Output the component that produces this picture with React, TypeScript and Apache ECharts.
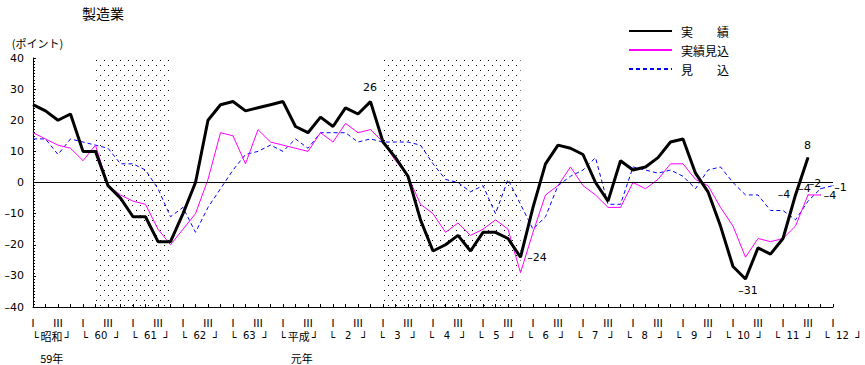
import React, { useEffect, useRef } from 'react';
import * as echarts from 'echarts';

const FONT = "'DejaVu Sans', 'Noto Sans CJK JP', sans-serif";
const JP = "'Noto Sans CJK JP', sans-serif";

// ---- texts ----
const chartTitle = '製造業';
const unitName = '(ポイント)';
const seriesNames = ['実　　績', '実績見込', '見　　込'];
const quarterMarks = ['Ⅰ', '', 'Ⅲ', ''];
const fiscalYears = ['昭和', '60', '61', '62', '63', '平成', '2', '3', '4', '5', '6', '7', '8', '9', '10', '11', '12'];
const eraNotes = ['59年', '元年'];
const eraYearIndex = [0, 5];

// ---- values (quarter index 0 = 昭和59年 I) ----
const actual = [
  25, 23, 20, 22, 10, 10, -1, -5, -11, -11, -19, -19, -10, 0, 20, 25,
  26, 23, 24, 25, 26, 18, 16, 21, 18, 24, 22, 26, 13, 8, 2, -12,
  -22, -20, -17, -22, -16, -16, -18, -24, -8, 6, 12, 11, 9, 0, -6, 7,
  4, 5, 8, 13, 14, 3, -3, -14, -27, -31, -21, -23, -18, -4, 8,
];
const estimate = [
  16, 14, 12, 11, 7, 12, -1, -4, -6, -7, -15, -20, -15, -10, 1, 16,
  15, 6, 17, 13, 12, 11, 10, 16, 13, 19, 16, 17, 13, 7, 2, -7,
  -10, -16, -13, -17, -15, -12, -15, -29, -16, -4, -1, 5, -1, -4, -8, -8,
  0, -2, 1, 6, 6, 1, -1, -8, -14, -24, -18, -19, -18, -14, -4, -4,
];
const forecast = [
  14, 14, 9, 14, 13, 12, 11, 6, 6, 4, -2, -11, -8, -16, -8, -2,
  4, 9, 10, 12, 10, 14, 11, 16, 16, 16, 13, 14, 13, 13, 13, 12,
  6, 1, 0, -3, -1, -10, 1, -7, -15, -11, -1, 2, 4, 8, -7, -7,
  5, 4, 3, 4, 2, -2, 4, 5, 0, -4, -4, -9, -9, -12, -6, -2, -1,
];
// recession periods (quarter index from, to) and top of the shading
const recessions = [[5, 10.9], [27.9, 39]];
const shadeTop = 43.7;

// labelled points: [index, dx, dy]
const actualLabels = [[27, 0, -14], [39, 17, 1], [57, 3, 12], [61, -11, 0], [62, 0, -12]];
const estimateLabels = [[62, -3, -6], [63, 10, 1]];
const forecastLabels = [[63, -5, -5], [64, 8, 2]];

const fmt = (v: number) => (v < 0 ? '–' + Math.abs(v) : String(v));

function buildData(values: number[], labels: number[][]) {
  return values.map((v, i) => {
    const lab = labels.find((l) => l[0] === i);
    if (!lab) return [i, v];
    return {
      value: [i, v],
      symbol: 'circle',
      symbolSize: 1,
      label: {
        show: true,
        position: [lab[1], lab[2]],
        align: 'center',
        verticalAlign: 'middle',
        formatter: fmt(v),
        fontSize: 11,
        lineHeight: 11,
        color: '#000',
        fontFamily: FONT,
      },
    };
  });
}

function makeDots() {
  const c = document.createElement('canvas');
  c.width = 8;
  c.height = 10;
  const ctx = c.getContext('2d')!;
  ctx.fillStyle = '#000';
  ctx.fillRect(0, 0, 1, 1);
  ctx.fillRect(4, 5, 1, 1);
  return c;
}

export default function App() {
  const ref = useRef<HTMLDivElement>(null);
  useEffect(() => {
    const chart = echarts.init(ref.current!, null, { renderer: 'svg' });
    const yearMids = fiscalYears.map((_, k) => 4 * k + 1.5);
    const eraMids = eraYearIndex.map((k) => 4 * k + 1.5);
    const hiddenY = (g: number) => ({ type: 'value', gridIndex: g, min: -40, max: 40, show: false });
    const option: any = {
      animation: false,
      textStyle: { fontFamily: FONT, color: '#000' },
      title: {
        text: chartTitle,
        left: 82,
        top: 6,
        padding: 0,
        textStyle: { fontSize: 14, fontWeight: 'normal', color: '#000', fontFamily: JP },
      },
      legend: {
        orient: 'vertical',
        left: 628,
        top: 24,
        padding: 0,
        itemWidth: 43,
        itemHeight: 14,
        itemGap: 5,
        data: seriesNames,
        itemStyle: { opacity: 0 },
        textStyle: { fontSize: 12, lineHeight: 14, color: '#000', fontFamily: JP, padding: [0, 0, 0, 4] },
      },
      grid: [
        { left: 33, top: 58, width: 800, height: 249 },
        { left: 33, top: 58, width: 825, height: 249 },
        { left: 33, top: 58, width: 825, height: 249 },
      ],
      xAxis: [
        {
          type: 'value',
          gridIndex: 0,
          min: 0,
          max: 64,
          interval: 1,
          axisLine: { onZero: false, lineStyle: { color: '#000', width: 1 } },
          axisTick: { inside: true, length: 3, lineStyle: { color: '#000' } },
          splitLine: { show: false },
          axisLabel: {
            margin: 9.5,
            fontSize: 11,
            lineHeight: 10,
            color: '#000',
            fontFamily: JP,
            formatter: (v: number) => quarterMarks[Math.round(v) % 4],
          },
        },
        {
          type: 'value',
          gridIndex: 1,
          min: 0,
          max: 66,
          axisLine: { show: false },
          axisTick: { show: false },
          splitLine: { show: false },
          axisLabel: {
            customValues: yearMids,
            margin: 21,
            color: '#000',
            formatter: (v: number) => {
              const name = fiscalYears[Math.round((v - 1.5) / 4)];
              const isNum = /^\d+$/.test(name);
              return `{b|└}{${isNum ? 'n' : 'k'}|${name}}{b|┘}`;
            },
            rich: {
              b: { fontFamily: 'DejaVu Sans', fontSize: 11, lineHeight: 12, padding: [6, 0, 0, 0], align: 'center', color: '#000' },
              n: { fontFamily: 'DejaVu Sans', fontSize: 10, lineHeight: 12, padding: [3, 0, 0, 0], width: 26, align: 'center', color: '#000' },
              k: { fontFamily: JP, fontSize: 11, lineHeight: 11, padding: [3, 0, 0, 0], width: 26, align: 'center', color: '#000' },
            },
          },
        },
        {
          type: 'value',
          gridIndex: 2,
          min: 0,
          max: 66,
          axisLine: { show: false },
          axisTick: { show: false },
          splitLine: { show: false },
          axisLabel: {
            customValues: eraMids,
            margin: 45,
            fontSize: 11,
            lineHeight: 12,
            color: '#000',
            fontFamily: JP,
            formatter: (v: number) => eraNotes[eraMids.indexOf(v)] ?? '',
          },
        },
      ],
      yAxis: [
        {
          type: 'value',
          gridIndex: 0,
          min: -40,
          max: 40,
          interval: 10,
          name: unitName,
          nameLocation: 'end',
          nameGap: 10,
          nameTextStyle: { fontSize: 11, color: '#000', fontFamily: JP, padding: [0, 0, 0, 9] },
          axisLine: { show: true, onZero: false, lineStyle: { color: '#000', width: 1 } },
          axisTick: { show: true, inside: true, length: 3, lineStyle: { color: '#000' } },
          minorTick: { show: true, splitNumber: 10, length: 2, lineStyle: { color: '#000' } },
          splitLine: { show: false },
          axisLabel: { margin: 9, fontSize: 11, color: '#000', fontFamily: FONT, formatter: (v: number) => fmt(v) },
        },
        hiddenY(1),
        hiddenY(2),
      ],
      series: [
        {
          name: seriesNames[2],
          type: 'line',
          xAxisIndex: 0,
          yAxisIndex: 0,
          data: buildData(forecast, forecastLabels),
          symbol: 'none',
          z: 3,
          lineStyle: { color: '#0000ff', width: 1, type: [4, 3] },
          itemStyle: { color: '#0000ff' },
        },
        {
          name: seriesNames[1],
          type: 'line',
          xAxisIndex: 0,
          yAxisIndex: 0,
          data: buildData(estimate, estimateLabels),
          symbol: 'none',
          z: 4,
          lineStyle: { color: '#ff00ff', width: 1 },
          itemStyle: { color: '#ff00ff' },
        },
        {
          name: seriesNames[0],
          type: 'line',
          xAxisIndex: 0,
          yAxisIndex: 0,
          data: buildData(actual, actualLabels),
          symbol: 'none',
          clip: false,
          z: 5,
          lineStyle: { color: '#000', width: 3 },
          itemStyle: { color: '#000' },
          markArea: {
            silent: true,
            itemStyle: { color: { image: makeDots(), repeat: 'repeat' } },
            data: recessions.map(([a, b]) => [
              { xAxis: a, yAxis: -40 },
              { xAxis: b, yAxis: shadeTop },
            ]),
          },
          markLine: {
            silent: true,
            symbol: ['none', 'none'],
            label: { show: false },
            lineStyle: { color: '#000', width: 1, type: 'solid' },
            data: [{ yAxis: 0 }],
          },
        },
      ],
    };
    chart.setOption(option);
    return () => chart.dispose();
  }, []);
  return <div ref={ref} style={{ width: 865, height: 365, position: 'absolute', left: 0, top: 0 }} />;
}
